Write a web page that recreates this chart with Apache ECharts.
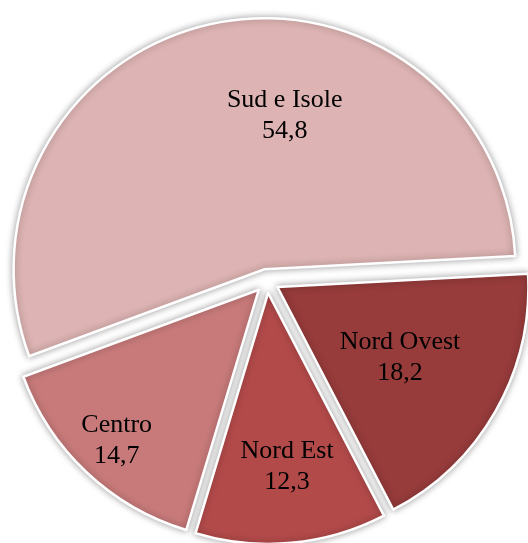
<!DOCTYPE html>
<html>
<head>
<meta charset="utf-8">
<script src="https://cdn.jsdelivr.net/npm/echarts@6/dist/echarts.min.js"></script>
<style>html,body{margin:0;padding:0;background:#fff;}#c{width:528px;height:543px;}</style>
</head>
<body>
<div id="c"></div>
<script>
const categories = ['Nord Ovest', 'Nord Est', 'Centro', 'Sud e Isole'];
const values = [18.2, 12.3, 14.7, 54.8];
const colors = ['#973B3B', '#B34A4A', '#C87A7A', '#DDB3B3'];
const labelShift = [[11, 7], [7, 46], [-54, 57], [46, -28]];

const chart = echarts.init(document.getElementById('c'), null, {renderer: 'canvas'});
chart.setOption({
  animation: false,
  backgroundColor: '#fff',
  series: [{
    type: 'pie',
    center: [267, 281],
    radius: [0, 251],
    startAngle: 3,
    clockwise: true,
    selectedMode: 'multiple',
    selectedOffset: 12,
    itemStyle: {
      borderColor: '#ffffff',
      borderWidth: 2.5,
      shadowBlur: 7,
      shadowColor: 'rgba(0,0,0,0.35)'
    },
    label: {
      show: true,
      position: 'inside',
      fontFamily: 'Liberation Serif',
      fontSize: 26,
      lineHeight: 31,
      color: '#000',
      formatter: p => p.name + '\n' + String(p.value).replace('.', ',')
    },
    labelLine: {show: false},
    emphasis: {disabled: true},
    labelLayout: p => ({dx: labelShift[p.dataIndex][0], dy: labelShift[p.dataIndex][1]}),
    data: categories.map((c, i) => ({
      name: c,
      value: values[i],
      selected: true,
      itemStyle: {color: colors[i]},
      select: {itemStyle: {color: colors[i]}}
    }))
  }]
});
</script>
</body>
</html>
